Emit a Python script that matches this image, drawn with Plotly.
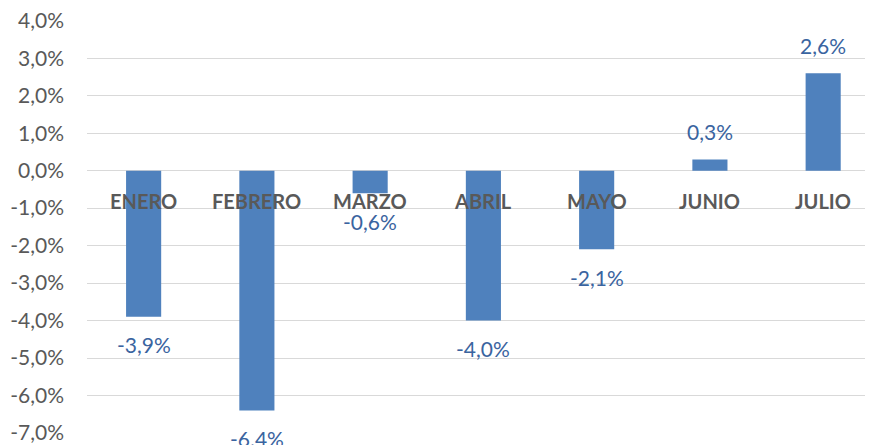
import plotly.graph_objects as go

months = ["ENERO", "FEBRERO", "MARZO", "ABRIL", "MAYO", "JUNIO", "JULIO"]
values = [-3.9, -6.4, -0.6, -4.0, -2.1, 0.3, 2.6]
value_labels = ["-3,9%", "-6.4%", "-0,6%", "-4,0%", "-2,1%", "0,3%", "2,6%"]
tick_vals = [4, 3, 2, 1, 0, -1, -2, -3, -4, -5, -6, -7]
tick_text = ["4,0%", "3,0%", "2,0%", "1,0%", "0,0%", "-1,0%", "-2,0%",
             "-3,0%", "-4,0%", "-5,0%", "-6,0%", "-7,0%"]
month_label_y = -0.8

FONT = "Lato"

fig = go.Figure()
fig.add_trace(go.Bar(
    x=months, y=values, width=0.31,
    marker=dict(color="#4F81BD", line=dict(width=0)),
    hoverinfo="skip",
))

annotations = []
for m, v, t in zip(months, values, value_labels):
    annotations.append(dict(
        x=m, y=v, text=t, showarrow=False, xref="x", yref="y",
        yshift=28 if v >= 0 else -28,
        font=dict(family=FONT, size=21, color="#3A64A0"),
    ))
for m in months:
    annotations.append(dict(
        x=m, y=month_label_y, text="<b>" + m + "</b>", showarrow=False,
        xref="x", yref="y",
        font=dict(family=FONT, size=20, color="#595959"),
    ))

fig.update_layout(
    width=865, height=437,
    margin=dict(l=79, r=0, t=12, b=12),
    paper_bgcolor="white", plot_bgcolor="white",
    showlegend=False,
    bargap=0.69,
    xaxis=dict(range=[-0.5, 6.44], showticklabels=False, showgrid=False,
               zeroline=False, showline=False, ticks=""),
    yaxis=dict(range=[-7, 4.02], tickvals=tick_vals, ticktext=tick_text,
               showgrid=True, gridcolor="#D9D9D9", gridwidth=1.3,
               zeroline=True, zerolinecolor="#D9D9D9", zerolinewidth=1.3,
               showline=False, ticks="", ticklabelstandoff=22,
               ticklabeloverflow="allow",
               tickfont=dict(family=FONT, size=21, color="#595959")),
    annotations=annotations,
)

fig.write_html("out.html")
